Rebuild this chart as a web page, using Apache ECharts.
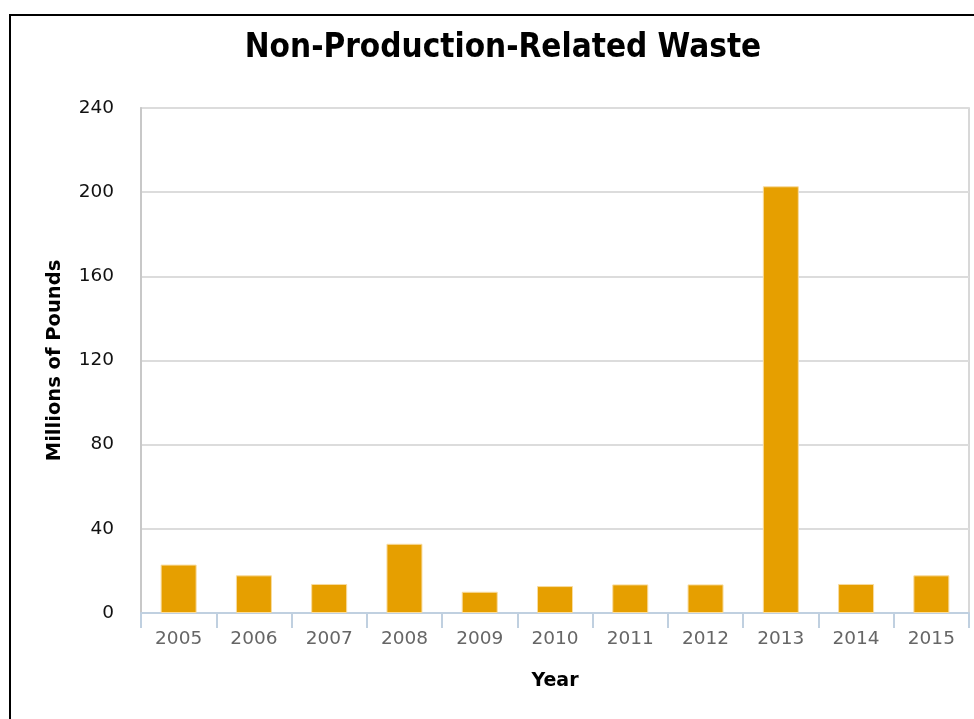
<!DOCTYPE html>
<html>
<head>
<meta charset="utf-8">
<script src="https://cdn.jsdelivr.net/npm/echarts@6/dist/echarts.min.js"></script>
<style>
html,body{margin:0;padding:0;background:#fff;}
#frame{position:absolute;left:9px;top:14px;width:980px;height:720px;border-left:2px solid #000;border-top:2px solid #000;box-sizing:border-box;}
#chart{position:absolute;left:0;top:0;width:974px;height:719px;}
</style>
</head>
<body>
<div id="frame"></div>
<div id="chart"></div>
<script>
const categories = ['2005','2006','2007','2008','2009','2010','2011','2012','2013','2014','2015'];
const wasteValues = [23.0, 17.9, 13.8, 32.9, 10.1, 12.8, 13.6, 13.6, 202.8, 13.8, 17.9];
const yTicks = [0, 40, 80, 120, 160, 200, 240];

const chart = echarts.init(document.getElementById('chart'), null, {renderer:'canvas'});
chart.setOption({
  animation:false,
  backgroundColor:'transparent',
  title:{
    text:'Non-Production-Related Waste',
    left:498, top:27, textAlign:'center',
    textStyle:{fontFamily:'DejaVu Sans Condensed', fontWeight:'bold', fontSize:33, color:'#000'}
  },
  grid:{left:141, right:5, top:108, bottom:106, show:true, borderColor:'#cccccc', borderWidth:1.5},
  xAxis:{
    type:'category', data:categories,
    name:'Year', nameLocation:'middle', nameGap:59,
    nameTextStyle:{fontFamily:'DejaVu Sans', fontWeight:'bold', fontSize:19, color:'#000'},
    axisLine:{lineStyle:{color:'#c0d0e0', width:2}},
    axisTick:{show:true, length:15, alignWithLabel:false, lineStyle:{color:'#c0d0e0', width:2}},
    axisLabel:{fontFamily:'DejaVu Sans', fontSize:18.5, color:'#666', margin:17}
  },
  yAxis:{
    type:'value', min:yTicks[0], max:yTicks[yTicks.length-1], interval:40,
    name:'Millions of Pounds', nameLocation:'middle', nameGap:76,
    nameTextStyle:{fontFamily:'DejaVu Sans', fontWeight:'bold', fontSize:19.5, color:'#000'},
    axisLine:{show:true, lineStyle:{color:'#c8c8c8', width:2}},
    axisTick:{show:false},
    splitLine:{lineStyle:{color:'#dcdcdc', width:2}},
    axisLabel:{fontFamily:'DejaVu Sans', fontSize:18.5, color:'#111', margin:27}
  },
  series:[{
    type:'bar', data:wasteValues, barWidth:36,
    itemStyle:{color:'#e69f00', borderColor:'#f8dca0', borderWidth:1}
  }]
});
</script>
</body>
</html>
